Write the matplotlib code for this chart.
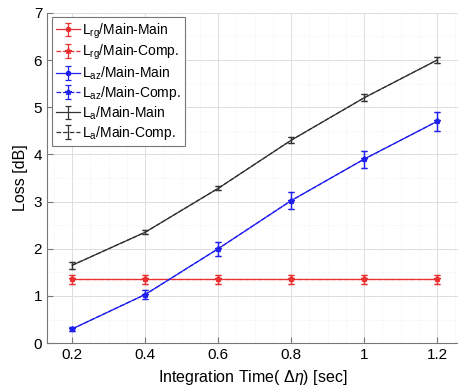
import matplotlib
matplotlib.use("Agg")
import matplotlib.pyplot as plt
from matplotlib.ticker import MultipleLocator

plt.rcParams['font.family'] = ['Liberation Sans', 'DejaVu Sans']
plt.rcParams['mathtext.fontset'] = 'custom'
plt.rcParams['mathtext.rm'] = 'Liberation Sans'
plt.rcParams['mathtext.it'] = 'Liberation Sans:italic'

t = [0.2, 0.4, 0.6, 0.8, 1.0, 1.2]
l_rg = [1.35, 1.35, 1.35, 1.35, 1.35, 1.35]
l_rg_err = [0.1, 0.1, 0.1, 0.1, 0.1, 0.1]
l_az = [0.3, 1.03, 2.0, 3.02, 3.9, 4.7]
l_az_err = [0.04, 0.09, 0.15, 0.18, 0.18, 0.2]
l_a = [1.65, 2.35, 3.28, 4.3, 5.2, 6.0]
l_a_err = [0.07, 0.04, 0.04, 0.06, 0.07, 0.07]

fig = plt.figure(figsize=(4.58, 3.89), dpi=100)
ax = fig.add_axes([0.1026, 0.118, 0.8974, 0.849])

series = [
    (l_rg, l_rg_err, '#e83030', 'rg'),
    (l_az, l_az_err, '#2020ee', 'az'),
    (l_a, l_a_err, '#333333', 'a'),
]
for vals, err, col, sub in series:
    mk1 = 'o' if sub != 'a' else None
    mk2 = '*' if sub != 'a' else None
    ax.errorbar(t, vals, yerr=err, color=col, lw=0.9, marker=mk1, ms=3,
                capsize=2.5, elinewidth=0.9, capthick=0.9,
                label=r'L$_{\mathregular{%s}}$/Main-Main' % sub)
    ax.errorbar(t, vals, yerr=err, color=col, lw=0.9, ls='--', marker=mk2, ms=4,
                capsize=2.5, elinewidth=0.9, capthick=0.9,
                label=r'L$_{\mathregular{%s}}$/Main-Comp.' % sub)

ax.set_xlim(0.131, 1.257)
ax.set_ylim(0, 7)
ax.set_xticks(t)
ax.set_xticklabels(['0.2', '0.4', '0.6', '0.8', '1', '1.2'])
ax.xaxis.set_minor_locator(MultipleLocator(0.05))
ax.yaxis.set_minor_locator(MultipleLocator(0.5))
ax.grid(True, which='major', color='#dddddd', lw=0.7)
ax.grid(True, which='minor', color='#eeeeee', lw=0.6, ls=':')
ax.set_axisbelow(True)
ax.spines['top'].set_visible(False)
ax.spines['right'].set_visible(False)
ax.spines['left'].set_color('#777777')
ax.spines['bottom'].set_color('#777777')
ax.tick_params(direction='in', labelsize=11, length=4, color='#777777')
ax.tick_params(which='minor', length=0)

ax.set_xlabel(r'Integration Time( $\Delta\eta$) [sec]', fontsize=11.5)
ax.set_ylabel('Loss [dB]', fontsize=11.5)

leg = ax.legend(loc='upper left', prop={'size': 10}, fancybox=False, framealpha=1,
                edgecolor='#777777', handlelength=1.7, handletextpad=0.2,
                labelspacing=0.16, borderpad=0.3, borderaxespad=0.2,
                bbox_to_anchor=(0.005, 0.995))
leg.get_frame().set_linewidth(0.8)

fig.savefig('out.png', dpi=100)
